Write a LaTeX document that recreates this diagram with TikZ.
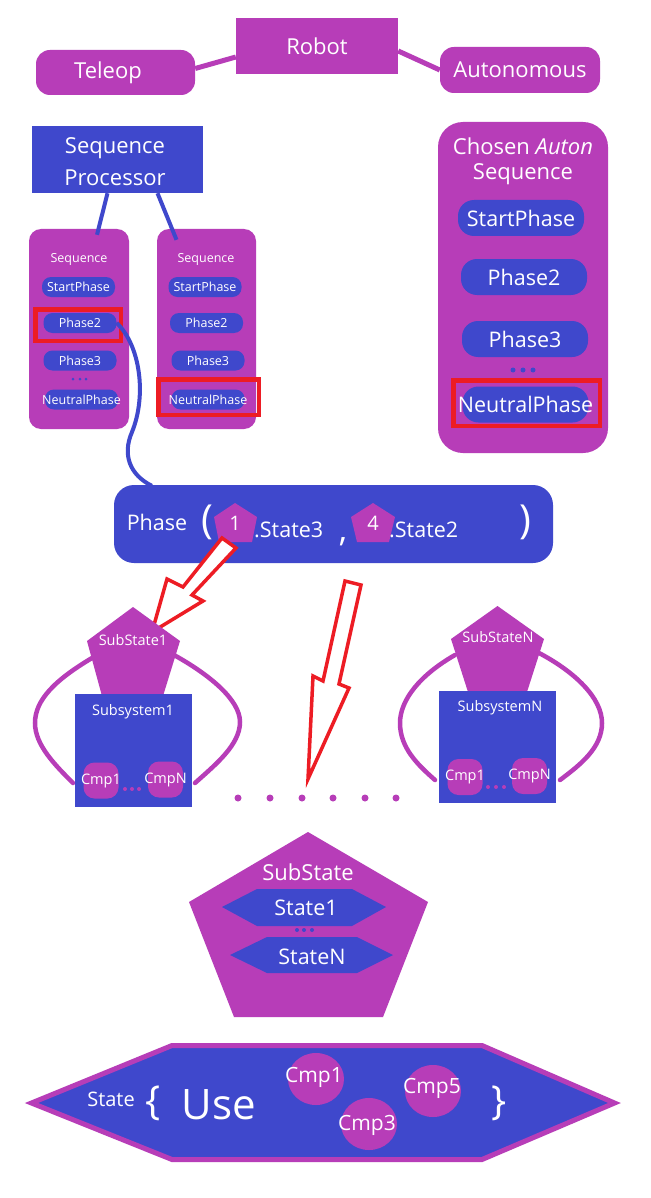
\documentclass[tikz,border=0pt]{standalone}
\usepackage{fontspec}
\setmainfont{Open Sans}
\usetikzlibrary{calc,shapes.geometric}
\definecolor{pur}{RGB}{183,61,184}
\definecolor{blu}{RGB}{63,72,204}
\definecolor{rd}{RGB}{237,28,36}
\newcommand{\fsz}[1]{\fontsize{#1}{#1}\selectfont}
\begin{document}
\begin{tikzpicture}[x=1pt,y=-1pt,
  lbl/.style={text=white,inner sep=0pt,font=\fsz{#1}},
  pbox/.style={fill=pur,inner sep=0pt},
  bbox/.style={fill=blu,inner sep=0pt},
  pline/.style={draw=pur,line width=5pt},
  bline/.style={draw=blu,line width=4pt},
  redframe/.style={draw=rd,line width=4.5pt,inner sep=0pt},
  loopline/.style={draw=pur,line width=4.5pt,line cap=round},
  redarrow/.style={draw=rd,line width=3.5pt,fill=white,line join=miter},
  bdot/.style={circle,fill=blu,inner sep=0pt,minimum size=#1},
  pdot/.style={circle,fill=pur,inner sep=0pt,minimum size=#1},
  spill/.style={fill=blu,rounded corners=9pt,minimum width=73pt,minimum height=20pt,inner sep=0pt,text=white,font=\fsz{12.5}},
  cpill/.style={fill=blu,rounded corners=16pt,minimum width=126pt,minimum height=36pt,inner sep=0pt,text=white,font=\fsz{21.5}},
  cmpbox/.style={fill=pur,rounded corners=11pt,minimum width=35pt,minimum height=36pt,inner sep=0pt,text=white,font=\fsz{14.5}},
  cmpell/.style={ellipse,fill=pur,minimum width=56pt,minimum height=52pt,inner sep=0pt},
]
\fill[white] (0,0) rectangle (650,1198);
\useasboundingbox (0,0) rectangle (650,1198);

% ---------- top ----------
\node[pbox,minimum width=162pt,minimum height=56pt,text=white,font=\fsz{22}] (robot) at (317,46) {Robot};
\node[pbox,rounded corners=14pt,minimum width=159pt,minimum height=45pt] (tel) at (115.5,72.5) {};
\node[lbl=22] (telT) at (108,72.5) {Teleop};
\node[pbox,rounded corners=14pt,minimum width=160pt,minimum height=46pt,text=white,font=\fsz{22}] (aut) at (520,70) {Autonomous};
\draw[pline] ($(tel.east)+(0,-4)$) -- ($(robot.west)+(0,11)$);
\draw[pline] ($(robot.east)+(0,5)$) -- (aut.west);

% ---------- sequence processor ----------
\node[bbox,minimum width=171pt,minimum height=67pt] (sp) at (117.5,159.5) {};
\node[lbl=22,font={\fontsize{22}{32}\selectfont},align=center] (spT) at (115,162) {Sequence\\Processor};

% left sequence
\node[pbox,rounded corners=12pt,minimum width=100pt,minimum height=200pt] (lseq) at (79,329) {};
\node[lbl=12.5] (lseqT) at (79,259) {Sequence};
\node[spill] (l1) at (78.5,287) {\makebox[0pt]{StartPhase}};
\node[spill] (l2) at (80,323) {\makebox[0pt]{Phase2}};
\node[spill] (l3) at (80,360.5) {\makebox[0pt]{Phase3}};
\node[bdot=3pt] (ld1) at (73,379) {};
\node[bdot=3pt] (ld2) at (80,379) {};
\node[bdot=3pt] (ld3) at (86,379) {};
\node[spill] (l4) at (81.5,399.5) {\makebox[0pt]{NeutralPhase}};
\node[redframe,minimum width=85.5pt,minimum height=31.5pt] (lred) at (78,325) {};

% right sequence
\node[pbox,rounded corners=12pt,minimum width=99pt,minimum height=200pt] (rseq) at (206.5,329) {};
\node[lbl=12.5] (rseqT) at (206,259) {Sequence};
\node[spill] (r1) at (205,287) {\makebox[0pt]{StartPhase}};
\node[spill] (r2) at (206.5,323) {\makebox[0pt]{Phase2}};
\node[spill] (r3) at (208,360.5) {\makebox[0pt]{Phase3}};
\node[spill] (r4) at (208,399.5) {\makebox[0pt]{NeutralPhase}};
\node[redframe,minimum width=100.5pt,minimum height=35.5pt] (rred) at (208.5,397) {};

\draw[bline] ($(sp.south)+(-10,0)$) -- ($(lseq.north)+(18,6)$);
\draw[bline] ($(sp.south)+(40,0)$) -- ($(rseq.north)+(-30,11)$);

% ---------- chosen auton ----------
\node[pbox,rounded corners=25pt,minimum width=170pt,minimum height=331pt] (cseq) at (523,287.5) {};
\node[lbl=22,font={\fontsize{22}{25}\selectfont},align=center] (cseqT) at (523,161) {Chosen \textit{Auton}\\Sequence};
\node[cpill] (c1) at (521,218) {\makebox[0pt]{StartPhase}};
\node[cpill] (c2) at (524,277) {\makebox[0pt]{Phase2}};
\node[cpill] (c3) at (525,339) {\makebox[0pt]{Phase3}};
\node[bdot=5pt] (cd1) at (513,370) {};
\node[bdot=5pt] (cd2) at (523,370) {};
\node[bdot=5pt] (cd3) at (533,370) {};
\node[cpill] (c4) at (525.5,404.5) {\makebox[0pt]{NeutralPhase}};
\node[redframe,minimum width=146.5pt,minimum height=45.5pt] (cred) at (526.5,403) {};

% ---------- phase ----------
\node[bbox,rounded corners=20pt,minimum width=439pt,minimum height=78pt] (phase) at (333.5,524) {};
\draw[bline] (l2.east) .. controls (140,345) and (147,395) .. (132,432) .. controls (122,455) and (130,475) .. ($(phase.north west)+(38,1)$);
\node[lbl=21.5] (phT) at (157,522) {Phase};
\node[lbl=40] (lpar) at (207,522) {(};
\fill[pur] (235,503) -- (257,517) -- (252,542) -- (219,542) -- (214,517) -- cycle;
\node[lbl=20] (n1) at (235,523) {1};
\node[lbl=21.5,anchor=west] (st3) at (254,530) {.State3};
\node[lbl=34,anchor=base] (comma) at (343,541) {,};
\fill[pur] (373,503) -- (395,517) -- (389,542) -- (357,542) -- (351,517) -- cycle;
\node[lbl=20] (n4) at (373,523) {4};
\node[lbl=21.5,anchor=west] (st2) at (389,530) {.State2};
\node[lbl=40] (rpar) at (525,522) {)};

% red arrows
\draw[redarrow] (222,538) -- (236,548) -- (192,595) -- (203,601) -- (152,632) -- (167,579) -- (183,587) -- cycle;
\draw[redarrow] (345,581) -- (361,585) -- (339,684) -- (349,688) -- (308,779) -- (313,676) -- (323,681) -- cycle;

% ---------- substate 1 ----------
\draw[loopline] (92,658) .. controls (55,680) and (35,700) .. (35,723) .. controls (35,745) and (55,765) .. (73,783);
\draw[loopline] (174,655) .. controls (210,675) and (240,700) .. (240,722) .. controls (240,745) and (215,765) .. (195,783);
\fill[pur] (133,607) -- (180,641) -- (163,696) -- (102,696) -- (87,641) -- cycle;
\node[lbl=14.5] (ss1) at (133,640) {SubState1};
\node[bbox,minimum width=117pt,minimum height=113pt] (sys1) at (133.5,750.5) {};
\node[lbl=14.5] (sys1T) at (133,712) {Subsystem1};
\node[cmpbox] (s1c1) at (101,780.5) {\makebox[0pt]{Cmp1}};
\node[cmpbox] (s1cn) at (165.5,779.5) {\makebox[0pt]{CmpN}};
\node[pdot=4pt] (s1d1) at (125,789) {};
\node[pdot=4pt] (s1d2) at (132,789) {};
\node[pdot=4pt] (s1d3) at (139,789) {};

% ---------- substate N ----------
\draw[loopline] (455,655) .. controls (420,675) and (400,700) .. (400,723) .. controls (400,748) and (418,765) .. (435,780);
\draw[loopline] (539,653) .. controls (575,672) and (602,698) .. (602,723) .. controls (602,748) and (580,765) .. (560,780);
\fill[pur] (497.5,606) -- (544,639) -- (527,692) -- (468,692) -- (451,639) -- cycle;
\node[lbl=14.5] (ssn) at (498,637) {SubStateN};
\node[bbox,minimum width=117pt,minimum height=112pt] (sysn) at (497.5,747) {};
\node[lbl=14.5] (sysnT) at (500,708) {SubsystemN};
\node[cmpbox] (snc1) at (465,777) {\makebox[0pt]{Cmp1}};
\node[cmpbox] (sncn) at (529.5,776) {\makebox[0pt]{CmpN}};
\node[pdot=4pt] (snd1) at (488,787) {};
\node[pdot=4pt] (snd2) at (496,787) {};
\node[pdot=4pt] (snd3) at (504,787) {};

% dots row
\foreach \x [count=\i] in {238,270,302,333,365,396} {
  \node[pdot=7pt] (row\i) at (\x,798) {};
}

% ---------- substate ----------
\fill[pur] (308,832) -- (428,902) -- (383,1017) -- (234,1017) -- (189,902) -- cycle;
\node[lbl=22] (sub) at (308,872) {SubState};
\fill[blu] (222,907) -- (257,889) -- (352,889) -- (386,907) -- (352,926) -- (257,926) -- cycle;
\node[lbl=21.5] (s1) at (306,908) {State1};
\node[bdot=4pt] (sd1) at (297,930) {};
\node[bdot=4pt] (sd2) at (304,930) {};
\node[bdot=4pt] (sd3) at (312,930) {};
\fill[blu] (230,955) -- (267,937) -- (357,937) -- (393,955) -- (357,973) -- (267,973) -- cycle;
\node[lbl=21.5] (sN) at (312,957) {StateN};

% ---------- state ----------
\draw[fill=blu,draw=pur,line width=5pt,line join=miter] (31.5,1103) -- (172,1045.5) -- (482,1045.5) -- (614.5,1103) -- (482,1159.5) -- (172,1159.5) -- cycle;
\node[lbl=20] (stT) at (111,1099) {State};
\node[lbl=40] (lbr) at (153,1103) {\{};
\node[lbl=42] (use) at (219,1105) {Use};
\node[cmpell] (e1) at (316,1079) {};
\node[cmpell] (e3) at (369,1124) {};
\node[cmpell] (e5) at (433,1091) {};
\node[lbl=21] (e1T) at (314,1077) {\makebox[0pt]{Cmp1}};
\node[lbl=21] (e3T) at (367,1125) {\makebox[0pt]{Cmp3}};
\node[lbl=21] (e5T) at (432,1088) {\makebox[0pt]{Cmp5}};
\node[lbl=40] (rbr) at (499,1103) {\}};
\end{tikzpicture}
\end{document}
